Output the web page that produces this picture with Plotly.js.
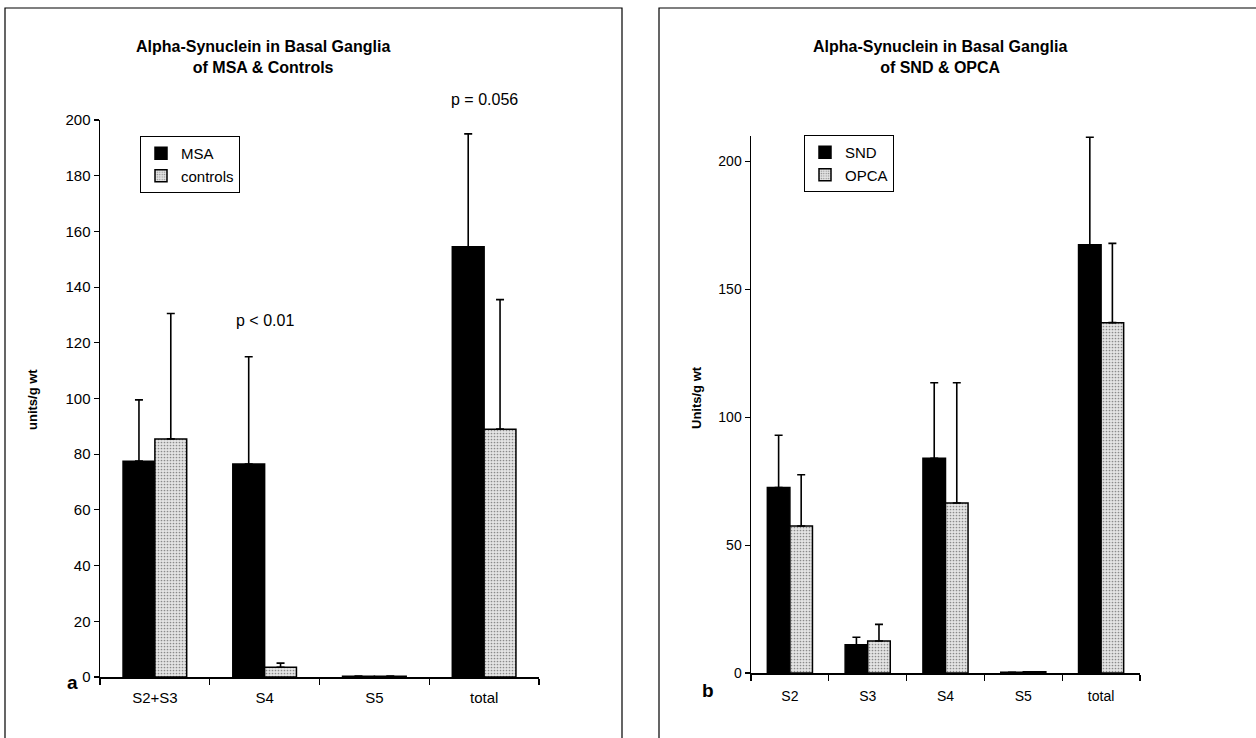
<!DOCTYPE html>
<html>
<head>
<meta charset="utf-8">
<script src="https://cdn.plot.ly/plotly-3.0.1.min.js"></script>
<style>html,body{margin:0;padding:0;background:#fff;}#chart{width:1256px;height:738px;}</style>
</head>
<body>
<div id="chart"></div>
<script>
// Panel a: MSA vs controls
const catsA = ['S2+S3', 'S4', 'S5', 'total'];
const msaMean = [77.5, 76.5, 0.3, 154.5];
const msaErrTop = [99.5, 115, 0.3, 195];
const ctrlMean = [85.5, 3.5, 0.3, 89];
const ctrlErrTop = [130.5, 5, 0.3, 135.5];

// Panel b: SND vs OPCA
const catsB = ['S2', 'S3', 'S4', 'S5', 'total'];
const sndMean = [72.5, 11, 84, 0.3, 167.5];
const sndErrTop = [93, 14, 113.5, 0.3, 209.5];
const opcaMean = [57.5, 12.5, 66.5, 0.5, 137];
const opcaErrTop = [77.5, 19, 113.5, 0.5, 168];

const W = 1256, H = 738;
const px = v => v / W;
const py = v => (H - v) / H;
const FONT = 'Liberation Sans, Arial, sans-serif';

const diff = (top, mean) => top.map((t, i) => Math.max(0, t - mean[i]));

const black = {color: '#000', line: {color: '#000', width: 1.5}};
const gray = {color: '#dcdcdc', line: {color: '#000', width: 1.5},
  pattern: {shape: '.', fgcolor: '#8a8a8a', bgcolor: '#e4e4e4', size: 3, solidity: 0.25}};
const errStyle = (arr) => ({type: 'data', symmetric: false, array: arr, arrayminus: arr.map(() => 0),
  color: '#000', thickness: 1.6, width: 4});

const traces = [
  {type: 'bar', name: 'MSA', x: catsA, y: msaMean, marker: black, error_y: errStyle(diff(msaErrTop, msaMean)),
   xaxis: 'x', yaxis: 'y', legend: 'legend'},
  {type: 'bar', name: 'controls', x: catsA, y: ctrlMean, marker: gray, error_y: errStyle(diff(ctrlErrTop, ctrlMean)),
   xaxis: 'x', yaxis: 'y', legend: 'legend'},
  {type: 'bar', name: 'SND', x: catsB, y: sndMean, marker: black, error_y: errStyle(diff(sndErrTop, sndMean)),
   xaxis: 'x2', yaxis: 'y2', legend: 'legend2'},
  {type: 'bar', name: 'OPCA', x: catsB, y: opcaMean, marker: gray, error_y: errStyle(diff(opcaErrTop, opcaMean)),
   xaxis: 'x2', yaxis: 'y2', legend: 'legend2'}
];

const xBase = {showgrid: false, zeroline: false, showline: true, linecolor: '#000', linewidth: 1.5,
  ticks: 'outside', tickson: 'boundaries', ticklen: 6, tickcolor: '#000', tickwidth: 1.2,
  tickfont: {family: FONT, size: 15, color: '#000'}, fixedrange: true};
const yBase = {showgrid: false, zeroline: false, showline: true, linecolor: '#000', linewidth: 1.5,
  ticks: 'outside', ticklen: 5, tickcolor: '#000', tickwidth: 1.2,
  tickfont: {family: FONT, size: 15, color: '#000'}, fixedrange: true};

const legendBase = {bgcolor: '#fff', bordercolor: '#000', borderwidth: 1,
  font: {family: FONT, size: 15, color: '#000'}, xanchor: 'left', yanchor: 'top',
  itemwidth: 30, tracegroupgap: 0, traceorder: 'normal'};

const layout = {
  width: W, height: H, margin: {l: 0, r: 0, t: 0, b: 0},
  paper_bgcolor: '#fff', plot_bgcolor: 'rgba(0,0,0,0)',
  barmode: 'group', bargap: 0.42, bargroupgap: 0,
  font: {family: FONT, color: '#000'},
  xaxis: Object.assign({}, xBase, {domain: [px(100), px(539)], anchor: 'y', ticklabelstandoff: 6}),
  yaxis: Object.assign({}, yBase, {domain: [py(677), py(120)], range: [0, 200], dtick: 20, anchor: 'x'}),
  xaxis2: Object.assign({}, xBase, {domain: [px(751), px(1140)], anchor: 'y2', ticklabelstandoff: 10,
    tickfont: {family: FONT, size: 14, color: '#000'}}),
  yaxis2: Object.assign({}, yBase, {domain: [py(673), py(136)], range: [0, 210], tickvals: [0, 50, 100, 150, 200], anchor: 'x2',
    tickfont: {family: FONT, size: 14, color: '#000'}}),
  legend: Object.assign({}, legendBase, {x: px(140), y: py(136)}),
  legend2: Object.assign({}, legendBase, {x: px(804), y: py(135)}),
  showlegend: true,
  shapes: [
    {type: 'rect', xref: 'paper', yref: 'paper', x0: px(5), x1: px(622), y0: -0.02, y1: py(8), line: {color: '#000', width: 1.2}},
    {type: 'rect', xref: 'paper', yref: 'paper', x0: px(659), x1: 1.02, y0: -0.02, y1: py(8), line: {color: '#000', width: 1.2}}
  ],
  annotations: [
    {text: '<b>Alpha-Synuclein in Basal Ganglia<br>of MSA &amp; Controls</b>', xref: 'paper', yref: 'paper',
     x: px(263), y: py(57), xanchor: 'center', yanchor: 'middle', showarrow: false, font: {family: FONT, size: 16, color: '#000'}},
    {text: '<b>Alpha-Synuclein in Basal Ganglia<br>of SND &amp; OPCA</b>', xref: 'paper', yref: 'paper',
     x: px(940), y: py(57), xanchor: 'center', yanchor: 'middle', showarrow: false, font: {family: FONT, size: 16, color: '#000'}},
    {text: 'p = 0.056', xref: 'x', yref: 'paper', x: 'total', y: py(99), xanchor: 'center', yanchor: 'middle',
     showarrow: false, font: {family: FONT, size: 16, color: '#000'}},
    {text: 'p < 0.01', xref: 'x', yref: 'y', x: 'S4', y: 128, xanchor: 'center', yanchor: 'middle',
     showarrow: false, font: {family: FONT, size: 16, color: '#000'}},
    {text: '<b>units/g wt</b>', xref: 'paper', yref: 'paper', x: px(32), y: py(400), textangle: -90,
     xanchor: 'center', yanchor: 'middle', showarrow: false, font: {family: FONT, size: 13, color: '#000'}},
    {text: '<b>Units/g wt</b>', xref: 'paper', yref: 'paper', x: px(697), y: py(398), textangle: -90,
     xanchor: 'center', yanchor: 'middle', showarrow: false, font: {family: FONT, size: 13, color: '#000'}},
    {text: '<b>a</b>', xref: 'paper', yref: 'paper', x: px(72), y: py(682), xanchor: 'center', yanchor: 'middle',
     showarrow: false, font: {family: FONT, size: 19, color: '#000'}},
    {text: '<b>b</b>', xref: 'paper', yref: 'paper', x: px(708), y: py(690), xanchor: 'center', yanchor: 'middle',
     showarrow: false, font: {family: FONT, size: 19, color: '#000'}}
  ]
};

Plotly.newPlot('chart', traces, layout, {displayModeBar: false, staticPlot: true});
</script>
</body>
</html>
